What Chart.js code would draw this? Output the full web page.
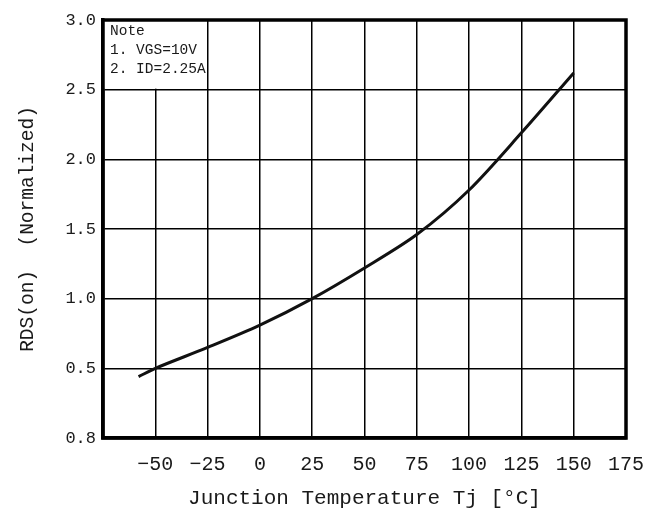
<!DOCTYPE html>
<html>
<head>
<meta charset="utf-8">
<script src="https://cdn.jsdelivr.net/npm/chart.js@4.4.1/dist/chart.umd.min.js"></script>
<style>
  html, body { margin: 0; padding: 0; background: #ffffff; }
  #wrap { width: 671px; height: 523px; }
</style>
</head>
<body>
<div id="wrap"><canvas id="c" width="671" height="523"></canvas></div>
<script>
// ---- Data ----
const temperatures = [-58, -50, -25, 0, 25, 50, 75, 100, 125, 150];
const rdsNormalized = [0.44, 0.50, 0.65, 0.81, 1.00, 1.22, 1.46, 1.78, 2.19, 2.62];

const xTickValues = [-50, -25, 0, 25, 50, 75, 100, 125, 150, 175];
const xTickLabels = ['\u221250', '\u221225', '0', '25', '50', '75', '100', '125', '150', '175'];
const yTickValues = [0, 0.5, 1.0, 1.5, 2.0, 2.5, 3.0];
const yTickLabels = ['0.8', '0.5', '1.0', '1.5', '2.0', '2.5', '3.0'];

const noteLines = ['Note', '1. VGS=10V', '2. ID=2.25A'];
const xTitle = 'Junction Temperature Tj [\u00B0C]';
const yTitle = 'RDS(on)  (Normalized)';

const MONO = '"Liberation Mono", "DejaVu Sans Mono", monospace';
const INK = '#1a1a1a';

const noteBox = {
  id: 'noteBox',
  beforeDatasetsDraw(chart) {
    const { ctx, chartArea, scales } = chart;
    const xr = scales.x.getPixelForValue(-25);
    const yb = scales.y.getPixelForValue(2.5);
    ctx.save();
    ctx.fillStyle = '#ffffff';
    ctx.fillRect(chartArea.left, chartArea.top, xr - chartArea.left - 1, yb - chartArea.top - 1);
    ctx.fillStyle = INK;
    ctx.font = '14.5px ' + MONO;
    ctx.textBaseline = 'middle';
    ctx.textAlign = 'left';
    noteLines.forEach((t, i) => {
      ctx.fillText(t, chartArea.left + 7, chartArea.top + 11 + i * 19);
    });
    ctx.restore();
  },
  afterDraw(chart) {
    const { ctx, chartArea } = chart;
    ctx.save();
    ctx.strokeStyle = '#000';
    ctx.lineWidth = 3.5;
    ctx.strokeRect(chartArea.left, chartArea.top, chartArea.right - chartArea.left, chartArea.bottom - chartArea.top);
    ctx.restore();
  }
};

new Chart(document.getElementById('c'), {
  type: 'line',
  data: {
    datasets: [{
      data: temperatures.map((t, i) => ({ x: t, y: rdsNormalized[i] })),
      borderColor: '#111',
      borderWidth: 3,
      pointRadius: 0,
      fill: false,
      tension: 0.3
    }]
  },
  options: {
    responsive: false,
    animation: false,
    devicePixelRatio: 1,
    layout: { padding: { top: 20, right: 45, left: 0, bottom: 0 } },
    plugins: { legend: { display: false }, tooltip: { enabled: false } },
    scales: {
      x: {
        type: 'linear',
        min: -75, max: 175,
        afterFit(s) { s.height = 85; },
        afterBuildTicks(s) {
          const vals = [-75].concat(xTickValues);
          s.ticks = vals.map(v => ({ value: v }));
        },
        ticks: {
          autoSkip: false,
          maxRotation: 0,
          padding: 15,
          color: INK,
          font: { family: MONO, size: 20 },
          callback(v) {
            const i = xTickValues.indexOf(v);
            return i < 0 ? '' : xTickLabels[i];
          }
        },
        grid: { color: '#000', lineWidth: 1.5, drawTicks: false },
        border: { display: true, color: '#000', width: 3.5 },
        title: {
          display: true,
          text: xTitle,
          color: INK,
          font: { family: MONO, size: 21 },
          padding: { top: 0, bottom: 12 }
        }
      },
      y: {
        type: 'linear',
        min: 0, max: 3,
        afterFit(s) { s.width = 103; },
        afterBuildTicks(s) { s.ticks = yTickValues.map(v => ({ value: v })); },
        ticks: {
          padding: 7,
          color: INK,
          font: { family: MONO, size: 17 },
          callback(v) {
            const i = yTickValues.indexOf(v);
            return i < 0 ? '' : yTickLabels[i];
          }
        },
        grid: { color: '#000', lineWidth: 1.5, drawTicks: false },
        border: { display: true, color: '#000', width: 3.5 },
        title: {
          display: true,
          text: yTitle,
          color: INK,
          font: { family: MONO, size: 19.5 },
          padding: { top: 16, bottom: 0 }
        }
      }
    }
  },
  plugins: [noteBox]
});
</script>
</body>
</html>
